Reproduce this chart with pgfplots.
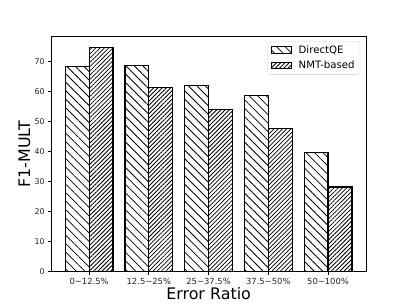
\documentclass[border=0pt]{standalone}
\usepackage{pgfplots}
\pgfplotsset{compat=1.18}
\usepackage{fontspec}
\setmainfont{DejaVu Sans}
\usetikzlibrary{patterns.meta}
\begin{document}
\begin{tikzpicture}
\path[use as bounding box] (0,0) rectangle (460.8pt,345.6pt);
\begin{axis}[
  ybar, bar width=0.4,
  at={(57.6pt,38.0pt)}, anchor=south west,
  scale only axis, width=357.1pt, height=266.1pt,
  xmin=-0.64, xmax=4.64, ymin=0, ymax=78.3,
  xtick={0,1,2,3,4},
  xticklabels={0\textasciitilde12.5\%,12.5\textasciitilde25\%,25\textasciitilde37.5\%,37.5\textasciitilde50\%,50\textasciitilde100\%},
  ytick={0,10,20,30,40,50,60,70},
  /pgf/number format/assume math mode=true,
  tick align=outside, xtick pos=bottom, ytick pos=left,
  major tick length=3.5pt,
  every tick/.style={black, line width=0.8pt},
  axis line style={line width=0.8pt},
  xticklabel style={font=\fontsize{9.5}{11}\selectfont, color=black!85},
  yticklabel style={font=\fontsize{9}{11}\selectfont, color=black!85},
  xlabel={Error Ratio}, ylabel={F1-MULT},
  xlabel style={font=\fontsize{18}{20}\selectfont, yshift=3pt},
  ylabel style={font=\fontsize{18}{20}\selectfont, yshift=-2pt},
  legend style={at={(1,1)}, anchor=north east, xshift=-7pt, yshift=-5pt,
    draw=black!20, rounded corners=2pt, font=\fontsize{11.5}{14}\selectfont,
    inner xsep=4pt, inner ysep=3pt, row sep=3pt,
    /tikz/every odd column/.append style={column sep=6pt}},
  legend cell align=left,
  legend image code/.code={\draw[#1, sharp corners, line width=1pt] (0pt,-3.8pt) rectangle (22pt,3.8pt);},
]
\addplot[bar shift=-0.2, draw=black, line width=1.3pt, fill=white,
  postaction={pattern={Lines[angle=-45,distance=6.8pt,line width=0.9pt]}}]
  coordinates {(0,68.4) (1,68.8) (2,62.0) (3,58.6) (4,39.8)};
\addlegendentry{DirectQE}
\addplot[bar shift=0.2, draw=black, line width=1.3pt, fill=white,
  postaction={pattern={Lines[angle=45,distance=3.4pt,line width=0.9pt]}}]
  coordinates {(0,74.6) (1,61.3) (2,54.0) (3,47.6) (4,28.2)};
\addlegendentry{NMT-based}
\end{axis}
\end{tikzpicture}
\end{document}
